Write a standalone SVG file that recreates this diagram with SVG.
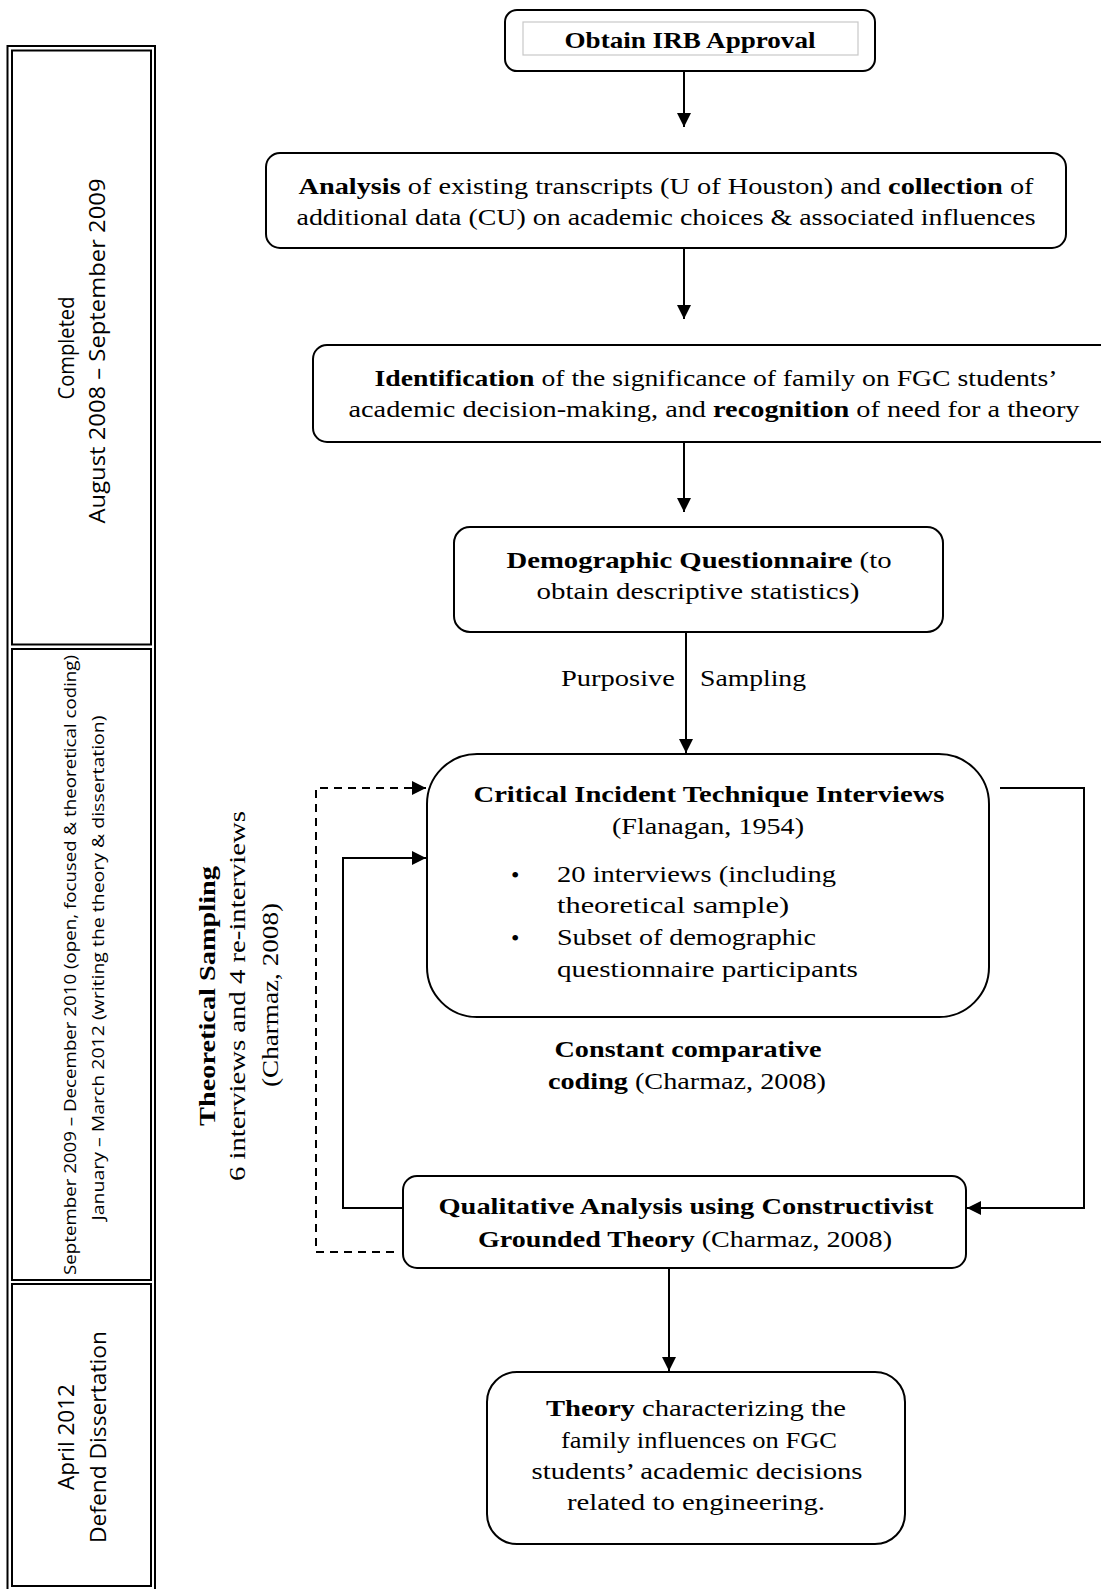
<svg xmlns="http://www.w3.org/2000/svg" width="1101" height="1589" viewBox="0 0 1101 1589">
<style>
.box{fill:#fff;stroke:#000;stroke-width:2}
.cell{fill:none;stroke:#000;stroke-width:2}
.t{font-family:"Liberation Serif","DejaVu Serif",serif;font-size:24px;fill:#000}
.b{font-weight:bold}
.s{font-family:"Open Sans","Liberation Sans",sans-serif;fill:#000}
.c{text-anchor:middle}
.ln{fill:none;stroke:#000;stroke-width:2}
.dash{fill:none;stroke:#000;stroke-width:2;stroke-dasharray:8 6}
</style>
<defs>
<marker id="ah" markerUnits="userSpaceOnUse" markerWidth="14" markerHeight="14" refX="14" refY="7" orient="auto">
<path d="M0,0 L14,7 L0,14 Z" fill="#000"/>
</marker>
</defs>
<rect width="1101" height="1589" fill="#fff"/>

<g id="timeline">
<rect x="7.5" y="46" width="147.5" height="1560" class="cell"/>
<rect x="12" y="50.5" width="139" height="594" class="cell"/>
<rect x="12" y="649" width="139" height="631" class="cell"/>
<rect x="12" y="1284" width="139" height="302" class="cell"/>
<text class="s c" font-size="21" transform="translate(74,348) rotate(-90)" x="0" y="0" textLength="103" lengthAdjust="spacingAndGlyphs">Completed</text>
<text class="s c" font-size="21" transform="translate(105,351) rotate(-90)" x="0" y="0" textLength="345" lengthAdjust="spacingAndGlyphs">August 2008 – September 2009</text>
<text class="s c" font-size="16" transform="translate(76,965) rotate(-90)" x="0" y="0" textLength="620" lengthAdjust="spacingAndGlyphs">September 2009 – December 2010 (open, focused &amp; theoretical coding)</text>
<text class="s c" font-size="16" transform="translate(104,968) rotate(-90)" x="0" y="0" textLength="505" lengthAdjust="spacingAndGlyphs">January – March 2012 (writing the theory &amp; dissertation)</text>
<text class="s c" font-size="21" transform="translate(74,1437) rotate(-90)" x="0" y="0" textLength="106" lengthAdjust="spacingAndGlyphs">April 2012</text>
<text class="s c" font-size="21" transform="translate(106,1437) rotate(-90)" x="0" y="0" textLength="212" lengthAdjust="spacingAndGlyphs">Defend Dissertation</text>
</g>

<g id="theoretical-sampling">
<text class="t b c" transform="translate(215,996) rotate(-90)" x="0" y="0" textLength="260" lengthAdjust="spacingAndGlyphs">Theoretical Sampling</text>
<text class="t c" transform="translate(245,996) rotate(-90)" x="0" y="0" textLength="370" lengthAdjust="spacingAndGlyphs">6 interviews and 4 re-interviews</text>
<text class="t c" transform="translate(278,995) rotate(-90)" x="0" y="0" textLength="184" lengthAdjust="spacingAndGlyphs">(Charmaz, 2008)</text>
</g>

<g id="connectors">
<line x1="684" y1="71" x2="684" y2="127" class="ln" marker-end="url(#ah)"/>
<line x1="684" y1="248" x2="684" y2="319" class="ln" marker-end="url(#ah)"/>
<line x1="684" y1="442" x2="684" y2="512" class="ln" marker-end="url(#ah)"/>
<line x1="686" y1="632" x2="686" y2="753" class="ln" marker-end="url(#ah)"/>
<line x1="669" y1="1268" x2="669" y2="1371" class="ln" marker-end="url(#ah)"/>
<polyline points="394,1252 316,1252 316,788 426,788" class="dash" marker-end="url(#ah)"/>
<polyline points="403,1208 343,1208 343,858 426,858" class="ln" marker-end="url(#ah)"/>
<polyline points="1000,788 1084,788 1084,1208 967,1208" class="ln" marker-end="url(#ah)"/>
</g>

<g id="irb">
<rect x="505" y="10" width="370" height="61" rx="12" class="box"/>
<rect x="523" y="22" width="335" height="33" fill="none" stroke="#c8c8c8" stroke-width="1.2"/>
<text class="t b c" x="690" y="48" textLength="251" lengthAdjust="spacingAndGlyphs">Obtain IRB Approval</text>
</g>

<g id="analysis">
<rect x="266" y="153" width="800" height="95" rx="14" class="box"/>
<text class="t c" x="666" y="194" textLength="735" lengthAdjust="spacingAndGlyphs"><tspan class="b">Analysis</tspan> of existing transcripts (U of Houston) and <tspan class="b">collection</tspan> of</text>
<text class="t c" x="666" y="225" textLength="739" lengthAdjust="spacingAndGlyphs">additional data (CU) on academic choices &amp; associated influences</text>
</g>

<g id="identification">
<rect x="313" y="345" width="810" height="97" rx="14" class="box"/>
<text class="t c" x="716" y="386" textLength="683" lengthAdjust="spacingAndGlyphs"><tspan class="b">Identification</tspan> of the significance of family on FGC students’</text>
<text class="t c" x="714" y="417" textLength="731" lengthAdjust="spacingAndGlyphs">academic decision-making, and <tspan class="b">recognition</tspan> of need for a theory</text>
</g>

<g id="demographic">
<rect x="454" y="527" width="489" height="105" rx="16" class="box"/>
<text class="t c" x="699" y="568" textLength="385" lengthAdjust="spacingAndGlyphs"><tspan class="b">Demographic Questionnaire</tspan> (to</text>
<text class="t c" x="698" y="599" textLength="323" lengthAdjust="spacingAndGlyphs">obtain descriptive statistics)</text>
</g>

<g id="purposive-label">
<text class="t" x="561" y="686" textLength="114" lengthAdjust="spacingAndGlyphs">Purposive</text>
<text class="t" x="700" y="686" textLength="106" lengthAdjust="spacingAndGlyphs">Sampling</text>
</g>

<g id="cit">
<rect x="427" y="754" width="562" height="263" rx="50" class="box"/>
<text class="t b c" x="709" y="802" textLength="471" lengthAdjust="spacingAndGlyphs">Critical Incident Technique Interviews</text>
<text class="t c" x="708" y="834" textLength="192" lengthAdjust="spacingAndGlyphs">(Flanagan, 1954)</text>
<text class="t" x="511" y="883" font-size="28">•</text>
<text class="t" x="557" y="882" textLength="279" lengthAdjust="spacingAndGlyphs">20 interviews (including</text>
<text class="t" x="557" y="913" textLength="232" lengthAdjust="spacingAndGlyphs">theoretical sample)</text>
<text class="t" x="511" y="946" font-size="28">•</text>
<text class="t" x="557" y="945" textLength="259" lengthAdjust="spacingAndGlyphs">Subset of demographic</text>
<text class="t" x="557" y="977" textLength="301" lengthAdjust="spacingAndGlyphs">questionnaire participants</text>
</g>

<g id="constant-label">
<text class="t b c" x="688" y="1057" textLength="267" lengthAdjust="spacingAndGlyphs">Constant comparative</text>
<text class="t c" x="687" y="1089" textLength="278" lengthAdjust="spacingAndGlyphs"><tspan class="b">coding</tspan> (Charmaz, 2008)</text>
</g>

<g id="qualitative">
<rect x="403" y="1176" width="563" height="92" rx="14" class="box"/>
<text class="t b c" x="686" y="1214" textLength="495" lengthAdjust="spacingAndGlyphs">Qualitative Analysis using Constructivist</text>
<text class="t c" x="685" y="1247" textLength="414" lengthAdjust="spacingAndGlyphs"><tspan class="b">Grounded Theory</tspan> (Charmaz, 2008)</text>
</g>

<g id="theory">
<rect x="487" y="1372" width="418" height="172" rx="30" class="box"/>
<text class="t c" x="696" y="1416" textLength="300" lengthAdjust="spacingAndGlyphs"><tspan class="b">Theory</tspan> characterizing the</text>
<text class="t c" x="699" y="1448" textLength="276" lengthAdjust="spacingAndGlyphs">family influences on FGC</text>
<text class="t c" x="697" y="1479" textLength="331" lengthAdjust="spacingAndGlyphs">students’ academic decisions</text>
<text class="t c" x="696" y="1510" textLength="258" lengthAdjust="spacingAndGlyphs">related to engineering.</text>
</g>
</svg>
